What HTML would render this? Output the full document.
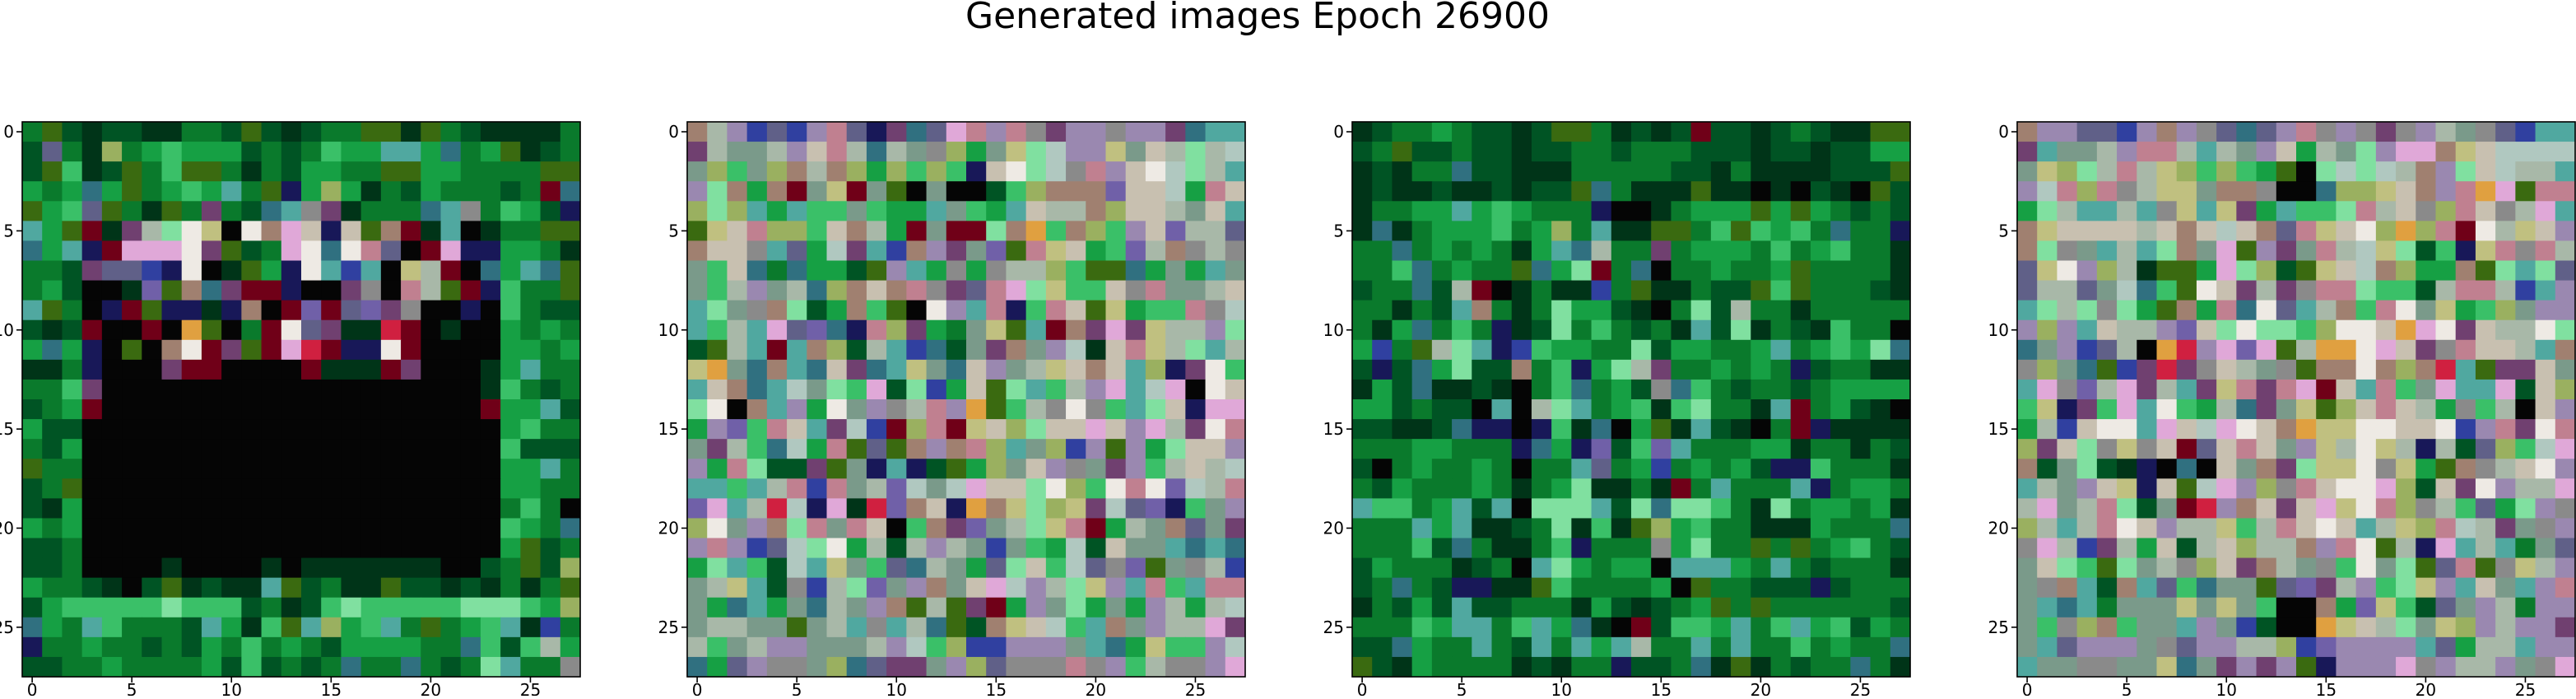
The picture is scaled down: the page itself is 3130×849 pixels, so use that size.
<!DOCTYPE html>
<html><head><meta charset="utf-8"><style>
html,body{margin:0;padding:0;background:#fff;}
body{width:3130px;height:845px;overflow:hidden;position:relative;font-family:"DejaVu Sans","Liberation Sans",sans-serif;}
</style></head><body>
<svg id="fig" width="3130" height="845" viewBox="0 0 3130 845" xmlns="http://www.w3.org/2000/svg">
<text x="1528" y="34" font-size="44" text-anchor="middle" font-family="DejaVu Sans, Liberation Sans, sans-serif" fill="#000">Generated images Epoch 26900</text>
</svg>
<script>
const palette = {
k:"#050505",d:"#003418",c:"#005424",a:"#0a7a2c",e:"#16a044",f:"#3ac068",F:"#80e0a0",
b:"#3a6a10",h:"#9ab060",g:"#606088",G:"#8a8a8a",s:"#a8b8a8",t:"#50a8a0",T:"#307080",
w:"#eeeae4",p:"#e0a8d8",P:"#c08090",m:"#704070",v:"#7060a8",n:"#181858",N:"#3040a0",
r:"#700018",R:"#d02040",o:"#e0a040",y:"#c0c080",u:"#a08070",x:"#c8c0b0",
q:"#9a88b0",z:"#7a9a8a",l:"#b0c8c0"};
const K21="kkkkkkkkkkkkkkkkkkkkk";
const image1 = ["abcdccddaacbcdcaabbdbacdddda","cgadhaefeeecacafeetteTaebdca","cbfdcbafbbadaceeaabbeeaaaabb",
"eaeTebaefetabnehedaceaaacarT","befgbadbamacTtGmdaaaTtGafecn","tebrdmsFwykwupxnxburdtkdaabb",
"TetnrpppwmbcapwTwPgkrpnneead","aacmggNnwkdbenwtNtkysrkTetTb","aeckkdvbuTmrrnkkmGkPsbrnfaab",
"tbaknrbnndnukrvrgvmGkknkfacc","cdcrkkrkobkarwgmddRrkdkkeaea","eTenkbkuwrmbrpRrnnwrkkkkeeae",
"ddankkkmrrkkkkrdddrmkkkdetaa","aafmkkkkkkkkkkkkkkkkkkkdfaca","caerkkkkkkkkkkkkkkkkkkkreetc",
"ecc"+K21+"efaa","ace"+K21+"fccc","baa"+K21+"eeta","cab"+K21+"eeaa","cde"+K21+"afak",
"eae"+K21+"feaT","cca"+K21+"ebca","ccakkkkdkkkkdkdddddddkkcabch","eaacdkcbdcddtbcaddbccdcdadab",
"cefffffFfffcadcfFfffffFFFfeh","TeatfaaactedfbtheftabaeftdNa","naaeaacaceafaeaceeeeaaTfcfse",
"ccaaeaaaaecfcacaTaaTacaFtaaG"];
const image2 = ["usqNgNqPgnmTgpPqPGmqqGqqmTtt","mszzsqxPsTszGhezyFlqqyzxsFsl","zhfzhusuhehfhfnxwFlGPqxwlFst",
"qFueurzyrzbkzkkcfhuuuvxxlePx","hFhtetffzfeetzfetxssuhxxszxt","byxPhhfxuserzrrFuofuhfqxvssg",
"uxxGtgelmtNuqmzvbPyxefvsuGsG","zfxTaTeecbqteGeGsshfbbTezetz","zfsqzsThuxuPGmgPpFyffxGPzzsx",
"tFzGuFceufbkwqtPnfPxbyeffPGl","tfstpgvTnPhmeazybtrumpmyssqF","cbstrtuhcstNTczmuzqldxPysFts",
"yozTutTxmTtyzTxqzsyxuxthnmwf","txuTtlzFfpcFNexbFtfsqptlpkwx","FwkutqewzqGsPqobfsGwGftFxnpp",
"eqvfPxtmlNrhPryxhFxxpxqpsmwP","zmsfTlePbgbuquPhtzhNqbqeFxxq","qePFccmbzntncbehzxqGzmqfsxsl",
"ttftsPNPzsvlzlpxxFwhfwPwvlsP","vptsRlnpdRvuxnouyFhymlgvnfzq","hwzquFPzPxkfumvzsFyPreszugzm",
"qPqNglFwescsqszNzfelcxzztTtT","eFtfcltyzfgTszegFxflgGvbzGsN","zsytcGNsFvzquzxplqsFyqtPftPP",
"zeTtezTszqubsbmreqzFezeqsesl","zsszzbzstGtsTbcuyxlftuzqsspm","sfzsqqzzzsqlfhNNqqqztTeyffql",
"TegqGGzhTgmmzqhgGGGPGqfsGGqp"];
const image3 = ["dcaaeaccdcbbadcdcrccdcacddbb","cabccaccdccaacaaacccdccdccee","dcdaaTccdddaaaaaccdaddddcccb",
"dcddcddcdccbTadddbddkdkcdkbc","daaeetefeaaankkdaeeebebeacac","dTdaeeefaehatddbbafbfefaTaan",
"aaTaeaeadetTsaamaeeeafaefaad","aafTaeaabTeFraTkaaeaaebaaaad","caaTcsrkdaddNabddaccbfbaaacd",
"aadactuadaFeecdkaFcsaadaaaaa","adeTafandcFafacadtcFdacdfaak","eNabsFtnNfeeaaFceeaaetaefeFT",
"cncTeFccuafneFsmaaeaeancaadd","decTddcdkafTaecGTfacaacaeeee","eecaccktksFtaefdfFaadtraecdk",
"ccddcTnnknfdTkebdtcdkarndddd","aaaeeaaanTenvcfvtaaaeedaadac","ckaeaaeakaatgaeNaeaecnnfaaad",
"aceaaaeadaeFddadrataaatnaeea","tffaetctkFFFtcFTFFfadFaeeaed","aaatetddcaFdfdbhefaadddeaaaT",
"aaafcTaddafnaaaGeFaababaefac","ceaaadcaktFeaeekttteatacaaad","caTacnnddbfaaaaekbaacccncaaa",
"dacectccaaadecdcaebabaaaaaac","aaafettafteTdkrcffetaftefcea","ccTeaatactatetsaatataafaeaaT",
"bcdeaaaadcdaanccaTdbdacaaTad"];
const image4 = ["uqqggNquqGgTgqPGqGmGqszGgNtt","mtzzsqPPstszqxeszFqppuyxllll","zyhFsPsyhfhfebkFlFlsuqFxlsst",
"qlPhPGsyyzuuGkkThhyxuqPopbPP","eFsttstGytymetffFPsxGhPxGspt","uyxxxxsxuxlxugPyxwhohPrwsyxq",
"uFGztstFuzpbqmzPslyFcfnyPGPs","gywqhsdbbepFhcbyxluheeubFtFg","gssgzlTfbwxmsmGPPFffcsPPsNtq",
"tFsFGFebuePTwgtsufPwzyefhzqq","qhqtxssqvxFwFFfhwwxopwmxsswF","TzqNgskoRqpvpbsoowpxmGPxxstu",
"GhzTbNmRmGxszGbuuwuhuRtbmmxz","tpGvspmstmyPmPprxtPfzpttpcxh","fynmfptwfesTmzybhxPxseGfskxq",
"esNxwwtpxlpwxuoyywwxxwNqPmwP","hmxFGyGxrgxPxzqyswysnscghflp","uczFcdnkTkxzumFyywGyebuGsxwq",
"tszqxynxblpqhGPxwwphcxmwqssp","spzsPFczrRquxmxpywPhGsfgeFqG","hstsPwxqssyfsPxwxtsyhPlsmzGq",
"GpsNmsexcsxhssuqPwbsnptstazg","zxFfbFzsGhxmuszGfwzFbgPbGysq","zGutcutgfTzzbgvmsqfFyqtxztqP",
"ztTtazzzyzyzfkkuevyfcgzqsaqq","zfGhufzztqzNckkoyxsFzyhqsqqm","ztgqqqzGgqqsshNvqqqqtgesstqq",
"tzzGGzzyTzmqmqbnqqqpGqssqzGp"];
const images = [image1, image2, image3, image4];
const tickValues = [0,5,10,15,20,25];
const NS = "http://www.w3.org/2000/svg";
const fig = document.getElementById('fig');
const N = 28, AW = 678, AH = 674, TOP = 148, LEFTS0 = 27, STEP = 808;
function mk(tag, attrs){const e=document.createElementNS(NS,tag);for(const k in attrs)e.setAttribute(k,attrs[k]);return e;}
images.forEach((img, pi) => {
  const L = LEFTS0 + pi*STEP;
  const cw = AW/N, ch = AH/N;
  const xs = v => L + (v+0.5)*cw;
  const ys = v => TOP + (v+0.5)*ch;
  const g = mk('g',{});
  
  
  fig.appendChild(g);
  for (let r=0;r<N;r++){
    let row = img[r] || img[img.length-1];
    for (let c=0;c<N;c++){
      const ch2 = row[Math.min(c,row.length-1)];
      const rect = mk('rect',{x:(xs(c)-cw/2).toFixed(2), y:(ys(r)-ch/2).toFixed(2), width:(cw+0.6).toFixed(2), height:(ch+0.6).toFixed(2), fill: palette[ch2]||"#808080"});
      
      
      g.appendChild(rect);
    }
  }
  const frame = mk('rect',{x:L, y:TOP, width:AW, height:AH, fill:'none', stroke:'#000', 'stroke-width':1.6});
  
  
  g.appendChild(frame);
  tickValues.forEach(t => {
    const x = xs(t), y = ys(t);
    const tx = mk('line',{x1:x,y1:TOP+AH,x2:x,y2:TOP+AH+7,stroke:'#000','stroke-width':1.6});
    
    
    g.appendChild(tx);
    const lx = mk('text',{x:x,y:845,'font-size':20,'text-anchor':'middle','font-family':'DejaVu Sans, Liberation Sans, sans-serif'});
    lx.textContent = String(t);
    
    
    g.appendChild(lx);
    const ty = mk('line',{x1:L-7,y1:y,x2:L,y2:y,stroke:'#000','stroke-width':1.6});
    
    
    g.appendChild(ty);
    const ly = mk('text',{x:L-10,y:y+7,'font-size':20,'text-anchor':'end','font-family':'DejaVu Sans, Liberation Sans, sans-serif'});
    ly.textContent = String(t);
    
    
    g.appendChild(ly);
  });
});
</script>
</body></html>
